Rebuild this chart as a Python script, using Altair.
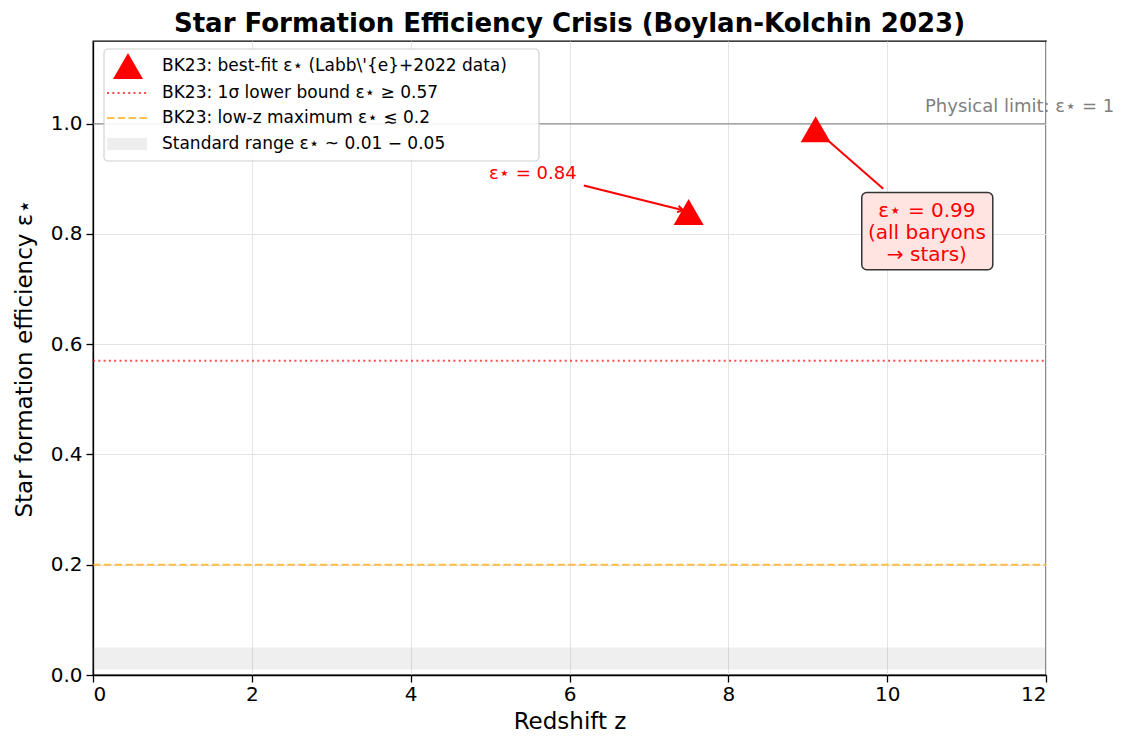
import math
import altair as alt
import pandas as pd

# ---- data ----
pt_z = [7.5, 9.1]
pt_eps = [0.84, 0.99]

lower_bound = 0.57
lowz_max = 0.2
phys_limit = 1.0
std_lo, std_hi = 0.01, 0.05

x_min, x_max = 0, 12
y_min, y_max = 0, 1.15

# annotation arrows (start -> end, data coords)
arr_x1 = [6.18, 9.95]
arr_y1 = [0.888, 0.882]
arr_x2 = [7.43, 9.14]
arr_y2 = [0.843, 0.984]

ann1_text = "ε⋆ = 0.84"
ann1_x, ann1_y = 6.09, 0.909
ann2_lines = ["ε⋆ = 0.99", "(all baryons", "→ stars)"]
ann2_x = 10.5
ann2_y = [0.842, 0.802, 0.761]
ann2_box = (9.68, 11.33, 0.735, 0.875)
phys_text = "Physical limit: ε⋆ = 1"
phys_tx, phys_ty = 12.86, 1.031

legend_labels = [
    "BK23: best-fit ε⋆ (Labb\\'{e}+2022 data)",
    "BK23: 1σ lower bound ε⋆ ≥ 0.57",
    "BK23: low-z maximum ε⋆ ≲ 0.2",
    "Standard range ε⋆ ~ 0.01 − 0.05",
]

W, H = 953, 634
FONT = "DejaVu Sans"

xs = alt.Scale(domain=[x_min, x_max], nice=False, zero=False)
ys = alt.Scale(domain=[y_min, y_max], nice=False, zero=False)
X = lambda f: alt.X(f, type="quantitative", scale=xs,
                    axis=alt.Axis(values=list(range(0, 13, 2)), title="Redshift z", format="d"))
Y = lambda f: alt.Y(f, type="quantitative", scale=ys,
                    axis=alt.Axis(values=[0, 0.2, 0.4, 0.6, 0.8, 1.0], format=".1f",
                                  title="Star formation efficiency ε⋆"))

band_df = pd.DataFrame({"x": [x_min], "x2": [x_max], "y": [std_lo], "y2": [std_hi]})
band = alt.Chart(band_df).mark_rect(color="#808080", opacity=0.13).encode(
    x=X("x"), x2="x2", y=Y("y"), y2="y2")

def hline(val, color, dash, width, opacity):
    df = pd.DataFrame({"x": [x_min], "x2": [x_max], "y": [val]})
    kw = dict(color=color, strokeWidth=width, opacity=opacity)
    if dash:
        kw["strokeDash"] = dash
    return alt.Chart(df).mark_rule(**kw).encode(x=X("x"), x2="x2", y=Y("y"))

l_lower = hline(lower_bound, "#ff0000", [2, 3.3], 2, 0.7)
l_lowz = hline(lowz_max, "#ffa500", [7.5, 3.3], 2, 0.7)
l_phys = hline(phys_limit, "#808080", None, 1.5, 0.7)

pts = alt.Chart(pd.DataFrame({"z": pt_z, "e": pt_eps})).mark_point(
    shape="triangle-up", filled=True, color="#ff0000", opacity=1, size=900
).encode(x=X("z"), y=Y("e"))

# arrows
pxu = W / (x_max - x_min)
pyu = H / (y_max - y_min)
angles = [math.degrees(math.atan2(-(y2 - y1) * pyu, (x2 - x1) * pxu))
          for x1, y1, x2, y2 in zip(arr_x1, arr_y1, arr_x2, arr_y2)]
arr_df = pd.DataFrame({"x1": arr_x1, "y1": arr_y1, "x2": arr_x2, "y2": arr_y2, "ang": angles})
arr_lines = alt.Chart(arr_df).mark_rule(color="#ff0000", strokeWidth=2).encode(
    x=X("x1"), y=Y("y1"), x2="x2", y2="y2")
arr_heads = alt.Chart(arr_df).mark_point(
    shape="M-1,-0.6L0,0L-1,0.6", filled=False, color="#ff0000", strokeWidth=2, size=120, opacity=1
).encode(x=X("x2"), y=Y("y2"), angle=alt.Angle("ang:Q", scale=None))

ann1 = alt.Chart(pd.DataFrame({"x": [ann1_x], "y": [ann1_y], "t": [ann1_text]})).mark_text(
    align="right", baseline="middle", color="#ff0000", fontSize=18, font=FONT
).encode(x=X("x"), y=Y("y"), text="t:N")

box_df = pd.DataFrame({"x": [ann2_box[0]], "x2": [ann2_box[1]], "y": [ann2_box[2]], "y2": [ann2_box[3]]})
ann2_box_mark = alt.Chart(box_df).mark_rect(
    fill="#ffe4e1", stroke="#333333", strokeWidth=1.5, cornerRadius=5
).encode(x=X("x"), x2="x2", y=Y("y"), y2="y2")
ann2 = alt.Chart(pd.DataFrame({"x": [ann2_x] * 3, "y": ann2_y, "t": ann2_lines})).mark_text(
    align="center", baseline="middle", color="#ff0000", fontSize=20, font=FONT
).encode(x=X("x"), y=Y("y"), text="t:N")

phys = alt.Chart(pd.DataFrame({"x": [phys_tx], "y": [phys_ty], "t": [phys_text]})).mark_text(
    align="right", baseline="middle", color="#808080", fontSize=18, font=FONT
).encode(x=X("x"), y=Y("y"), text="t:N")

# legend (pixel layout)
one = pd.DataFrame({"a": [0]})
leg_box = alt.Chart(one).mark_rect(
    fill="white", stroke="#cccccc", strokeWidth=1.2, cornerRadius=4, opacity=0.9
).encode(x=alt.value(11), x2=alt.value(446), y=alt.value(8), y2=alt.value(120))
rows = [25, 52, 77, 103]
leg_tri = alt.Chart(one).mark_point(shape="triangle-up", filled=True, color="#ff0000", size=900, opacity=1).encode(
    x=alt.value(35), y=alt.value(rows[0]))
leg_l1 = alt.Chart(one).mark_rule(color="#ff0000", strokeWidth=2, opacity=0.7, strokeDash=[2, 3.3]).encode(
    x=alt.value(14), x2=alt.value(54), y=alt.value(rows[1]))
leg_l2 = alt.Chart(one).mark_rule(color="#ffa500", strokeWidth=2, opacity=0.7, strokeDash=[7.5, 3.3]).encode(
    x=alt.value(14), x2=alt.value(54), y=alt.value(rows[2]))
leg_r = alt.Chart(one).mark_rect(fill="#808080", opacity=0.13, stroke="#808080", strokeOpacity=0.13).encode(
    x=alt.value(14), x2=alt.value(54), y=alt.value(rows[3] - 6), y2=alt.value(rows[3] + 6))
leg_txts = [
    alt.Chart(pd.DataFrame({"t": [lab]})).mark_text(
        align="left", baseline="middle", fontSize=17, font=FONT, color="black"
    ).encode(x=alt.value(69), y=alt.value(r), text="t:N")
    for lab, r in zip(legend_labels, rows)
]

chart = alt.layer(
    band, l_lowz, l_lower, l_phys, arr_lines, arr_heads, pts, ann1, ann2_box_mark, ann2, phys,
    leg_box, leg_tri, leg_l1, leg_l2, leg_r, *leg_txts
).properties(
    width=W, height=H,
    background="white",
    padding={"left": 5, "top": 3, "right": 0, "bottom": 0},
    title=alt.TitleParams("Star Formation Efficiency Crisis (Boylan-Kolchin 2023)",
                          fontSize=26, fontWeight="bold", font=FONT, offset=4, color="black"),
).configure_axis(
    labelFont=FONT, titleFont=FONT, labelFontSize=20, titleFontSize=23, titleFontWeight="normal",
    labelColor="black", titleColor="black", domainColor="black", tickColor="black",
    tickSize=7, tickWidth=1.3, domainWidth=1.3, gridColor="#e3e3e3", gridOpacity=1,
).configure_axisX(titlePadding=6, labelPadding=2).configure_axisY(titlePadding=14, labelPadding=4).configure_view(
    stroke="black", strokeWidth=1.3
)

chart.save("out.html", embed_options={"renderer": "svg", "actions": False})
